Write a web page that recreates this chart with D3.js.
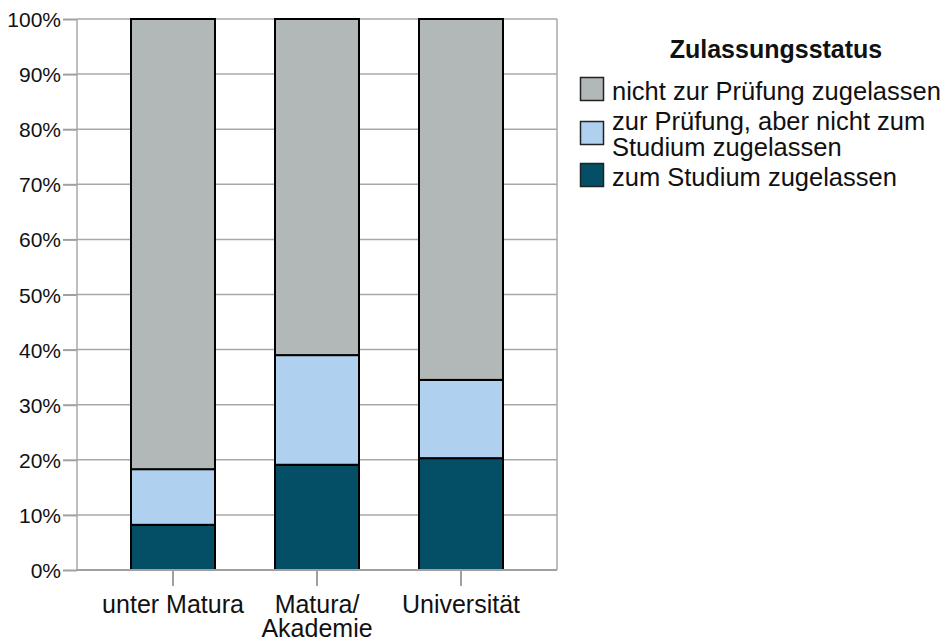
<!DOCTYPE html>
<meta charset="utf-8">
<script src="https://d3js.org/d3.v7.min.js"></script>
<style>
body { margin: 0; background: #fff; }
svg text { font-family: "Liberation Sans", Arial, sans-serif; fill: #111; }
.grid line { stroke: #a8a8a8; stroke-width: 1.5px; }
.axis path, .axis line { stroke: #a0a0a0; stroke-width: 2px; }
.axis text { font-size: 21px; }
</style>
<body>
<script>

// categories (x axis), one label line per entry
var categories = ["unter Matura", "Matura/\nAkademie", "Universität"];

// series, stacked from the bottom up (percent)
var seriesNames = ["zum Studium zugelassen", "zur Prüfung, aber nicht zum\nStudium zugelassen", "nicht zur Prüfung zugelassen"];
var zumStudium = [8.2, 19.1, 20.3];
var zurPruefung = [10.1, 19.9, 14.2];
var nichtZurPruefung = [81.7, 61.0, 65.5];

var seriesColors = ["#044f66", "#afd0ee", "#b2b7b7"];
var legendTitle = "Zulassungsstatus";
var yTicks = [0, 10, 20, 30, 40, 50, 60, 70, 80, 90, 100];

var table = categories.map(function(c, i) {
  return { cat: c, s0: zumStudium[i], s1: zurPruefung[i], s2: nichtZurPruefung[i] };
});
var stack = d3.stack().keys(["s0", "s1", "s2"])(table);

var W = 949, H = 641;
var margin = {top: 19, right: 392, bottom: 71, left: 77};
var width = W - margin.left - margin.right,
    height = H - margin.top - margin.bottom;

var svg = d3.select("body").append("svg")
    .attr("width", W)
    .attr("height", H);

var g = svg.append("g")
    .attr("transform", "translate(" + margin.left + "," + margin.top + ")");

var x = d3.scaleBand()
    .domain(categories)
    .range([0, width])
    .paddingInner(0.4167)
    .paddingOuter(0.375);

var y = d3.scaleLinear()
    .domain([0, 100])
    .range([height, 0]);

// horizontal grid lines
g.append("g").attr("class", "grid")
  .selectAll("line")
  .data(yTicks).enter().append("line")
    .attr("x1", 0).attr("x2", width)
    .attr("y1", function(d) { return y(d); })
    .attr("y2", function(d) { return y(d); });

// vertical border lines of the plot
g.append("g").attr("class", "grid")
  .selectAll("line")
  .data([0, width]).enter().append("line")
    .attr("x1", function(d) { return d; }).attr("x2", function(d) { return d; })
    .attr("y1", 0).attr("y2", height);

// stacked bars
g.selectAll(".layer")
  .data(stack).enter().append("g")
    .attr("class", "layer")
    .attr("fill", function(d, i) { return seriesColors[i]; })
  .selectAll("rect")
  .data(function(d) { return d; }).enter().append("rect")
    .attr("x", function(d) { return x(d.data.cat); })
    .attr("width", x.bandwidth())
    .attr("y", function(d) { return y(d[1]); })
    .attr("height", function(d) { return y(d[0]) - y(d[1]); })
    .attr("stroke", "#000")
    .attr("stroke-width", 2);

// y axis
var yAxis = g.append("g").attr("class", "axis")
    .call(d3.axisLeft(y).tickValues(yTicks).tickSize(14).tickPadding(2)
      .tickFormat(function(d) { return d + "%"; }));
yAxis.select(".domain").remove();
yAxis.selectAll("text").attr("dy", "0.36em");

// x axis
var xAxis = g.append("g").attr("class", "axis")
    .attr("transform", "translate(0," + height + ")")
    .call(d3.axisBottom(x).tickSize(16).tickFormat(""));
xAxis.select(".domain").attr("d", "M0,0H" + width);

xAxis.selectAll(".tick").append("text")
    .attr("text-anchor", "middle")
    .style("font-size", "25px")
    .each(function(d) {
      var lines = d.split("\n");
      d3.select(this).selectAll("tspan")
        .data(lines).enter().append("tspan")
          .attr("x", 0)
          .attr("y", function(l, i) { return 42.5 + i * 24.5; })
          .text(function(l) { return l; });
    });

// legend
var legend = svg.append("g").attr("transform", "translate(580,0)");

legend.append("text")
    .attr("x", 196).attr("y", 58)
    .attr("text-anchor", "middle")
    .style("font-size", "25px")
    .style("font-weight", "bold")
    .text(legendTitle);

var legendItems = [2, 1, 0];
var legendTop = [77, 121, 163];

legendItems.forEach(function(si, k) {
  var item = legend.append("g").attr("transform", "translate(0," + legendTop[k] + ")");
  item.append("rect")
      .attr("x", 0.5).attr("y", 0.5)
      .attr("width", 23).attr("height", 23)
      .attr("fill", seriesColors[si])
      .attr("stroke", "#222")
      .attr("stroke-width", 1.5);
  var lines = seriesNames[si].split("\n");
  var t = item.append("text").style("font-size", "25.5px");
  t.selectAll("tspan").data(lines).enter().append("tspan")
      .attr("x", 32)
      .attr("y", function(l, i) { return (lines.length > 1 ? 9 : 22.5) + i * 25.5; })
      .text(function(l) { return l; });
});

</script>
</body>
